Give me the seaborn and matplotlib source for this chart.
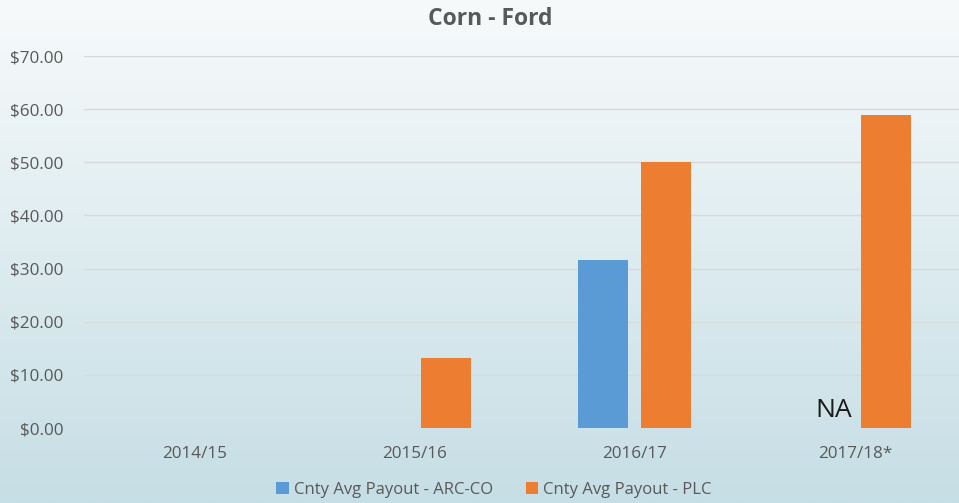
import numpy as np
import pandas as pd
import matplotlib
matplotlib.use("Agg")
import matplotlib.pyplot as plt
from matplotlib.patches import Patch
import seaborn as sns

seasons = ["2014/15", "2015/16", "2016/17", "2017/18*"]
series_names = ["Cnty Avg Payout - ARC-CO", "Cnty Avg Payout - PLC"]
arc_co = [0.0, 0.0, 31.7, np.nan]
plc = [0.0, 13.2, 50.0, 58.9]
y_ticks = [0, 10, 20, 30, 40, 50, 60, 70]

colors = ["#5B9BD5", "#ED7D31"]
text_grey = "#595959"

sns.set_style("white")
plt.rcParams["font.family"] = ["Open Sans", "DejaVu Sans"]

df = pd.DataFrame({
    "season": seasons * 2,
    "series": [series_names[0]] * 4 + [series_names[1]] * 4,
    "value": arc_co + plc,
})

fig = plt.figure(figsize=(9.59, 5.03), dpi=100)

# gradient background over the whole figure
bg = fig.add_axes([0, 0, 1, 1], zorder=-10)
top = np.array([247, 250, 251]) / 255
mid = np.array([222, 236, 240]) / 255
bot = np.array([198, 222, 229]) / 255
t = np.linspace(0, 1, 256)[:, None]
grad = np.where(t < 0.5, top + (mid - top) * (t / 0.5), mid + (bot - mid) * ((t - 0.5) / 0.5))
bg.imshow(grad[:, None, :], aspect="auto", extent=[0, 1, 0, 1])
bg.set_axis_off()

W, H = 959, 503
ax = fig.add_axes([84 / W, (H - 428) / H, (965 - 84) / W, (428 - 56) / H])
ax.patch.set_alpha(0)

sns.barplot(
    data=df, x="season", y="value", hue="series",
    palette=colors, width=0.571, gap=0.206,
    legend=False, ax=ax, zorder=3, saturation=1,
    linewidth=0, edgecolor="none",
)

ax.set_xlim(-0.5, 3.5)
ax.set_ylim(0, 70)
ax.set_yticks(y_ticks)
ax.set_yticklabels([f"${v:.2f}" for v in y_ticks])
ax.yaxis.grid(True, color="#d9d9d9", linewidth=1, zorder=0)
ax.set_axisbelow(True)
for s in ax.spines.values():
    s.set_visible(False)
ax.tick_params(axis="both", length=0, labelsize=12.3, colors=text_grey)
ax.tick_params(axis="y", pad=15)
ax.tick_params(axis="x", pad=13)
ax.set_xlabel("")
ax.set_ylabel("")

# NA marker for the missing ARC-CO value
ax.text(3 - 0.095, 0.9, "NA", ha="center", va="bottom", fontsize=19, color="#1a1a1a")

fig.text(490 / W, 1 - 19 / H, "Corn - Ford", ha="center", va="center",
         fontsize=16.5, fontweight="bold", color=text_grey)

handles = [Patch(facecolor=c, edgecolor="none") for c in colors]
fig.legend(handles, series_names, loc="center", bbox_to_anchor=(494 / W, 1 - 490 / H),
           ncol=2, frameon=False, fontsize=12, labelcolor=text_grey,
           handlelength=0.75, handleheight=0.75, handletextpad=0.3, columnspacing=2.0)

fig.savefig("out.png", dpi=100)
